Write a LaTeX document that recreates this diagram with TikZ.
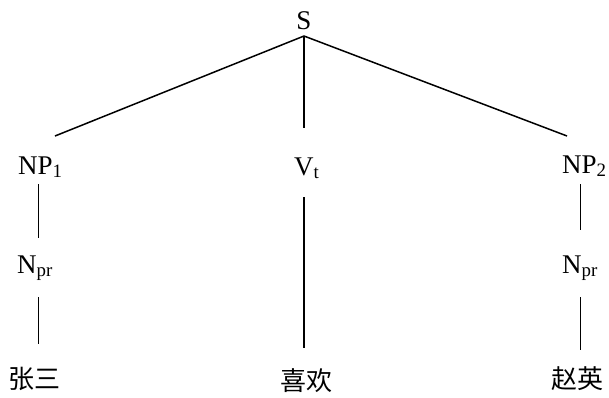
\documentclass[tikz,border=0pt]{standalone}
\usepackage{fontspec}
\setmainfont{Liberation Serif}
\newfontfamily\cjk{Noto Sans CJK SC}
\tikzset{
  lab/.style={inner sep=0pt, font=\fontsize{27}{30}\selectfont},
  hanzi/.style={inner sep=0pt, font=\cjk\fontsize{26}{28}\selectfont},
  branch/.style={line width=1.5pt},
  stem/.style={line width=1.3pt},
}
\begin{document}
\begin{tikzpicture}[x=1pt,y=-1pt]
\useasboundingbox (0,0) rectangle (609,397);
% labels
\node[lab, anchor=base] (S) at (304,29) {S};
\node[lab, anchor=base west] (NPa) at (18,174) {NP\textsubscript{1}};
\node[lab, anchor=base west] (Vt) at (294,175) {V\textsubscript{t}};
\node[lab, anchor=base west] (NPb) at (562,173) {NP\textsubscript{2}};
\node[lab, anchor=base west] (Na) at (17,273) {N\textsubscript{pr}};
\node[lab, anchor=base west] (Nb) at (562,273) {N\textsubscript{pr}};
\node[hanzi] (w1) at (35,379) {张三};
\node[hanzi] (w2) at (306,381) {喜欢};
\node[hanzi] (w3) at (577,379) {赵英};
% connector end points
\coordinate (apex) at (304,36);
\coordinate (eL) at (55,136);
\coordinate (eM) at (304,128);
\coordinate (eR) at (567,136);
\coordinate (a1) at (38.5,184); \coordinate (a2) at (38.5,238);
\coordinate (a3) at (38.5,297); \coordinate (a4) at (38.5,344);
\coordinate (m1) at (304,197);  \coordinate (m2) at (304,348);
\coordinate (b1) at (580.5,184); \coordinate (b2) at (580.5,230);
\coordinate (b3) at (580.5,297); \coordinate (b4) at (580.5,350);
% connectors
\draw[branch] (apex) -- (eL);
\draw[branch] (apex) -- (eR);
\draw[stem] (apex) -- (eM);
\draw[stem] (a1) -- (a2);
\draw[stem] (a3) -- (a4);
\draw[stem] (m1) -- (m2);
\draw[stem] (b1) -- (b2);
\draw[stem] (b3) -- (b4);
\end{tikzpicture}
\end{document}
